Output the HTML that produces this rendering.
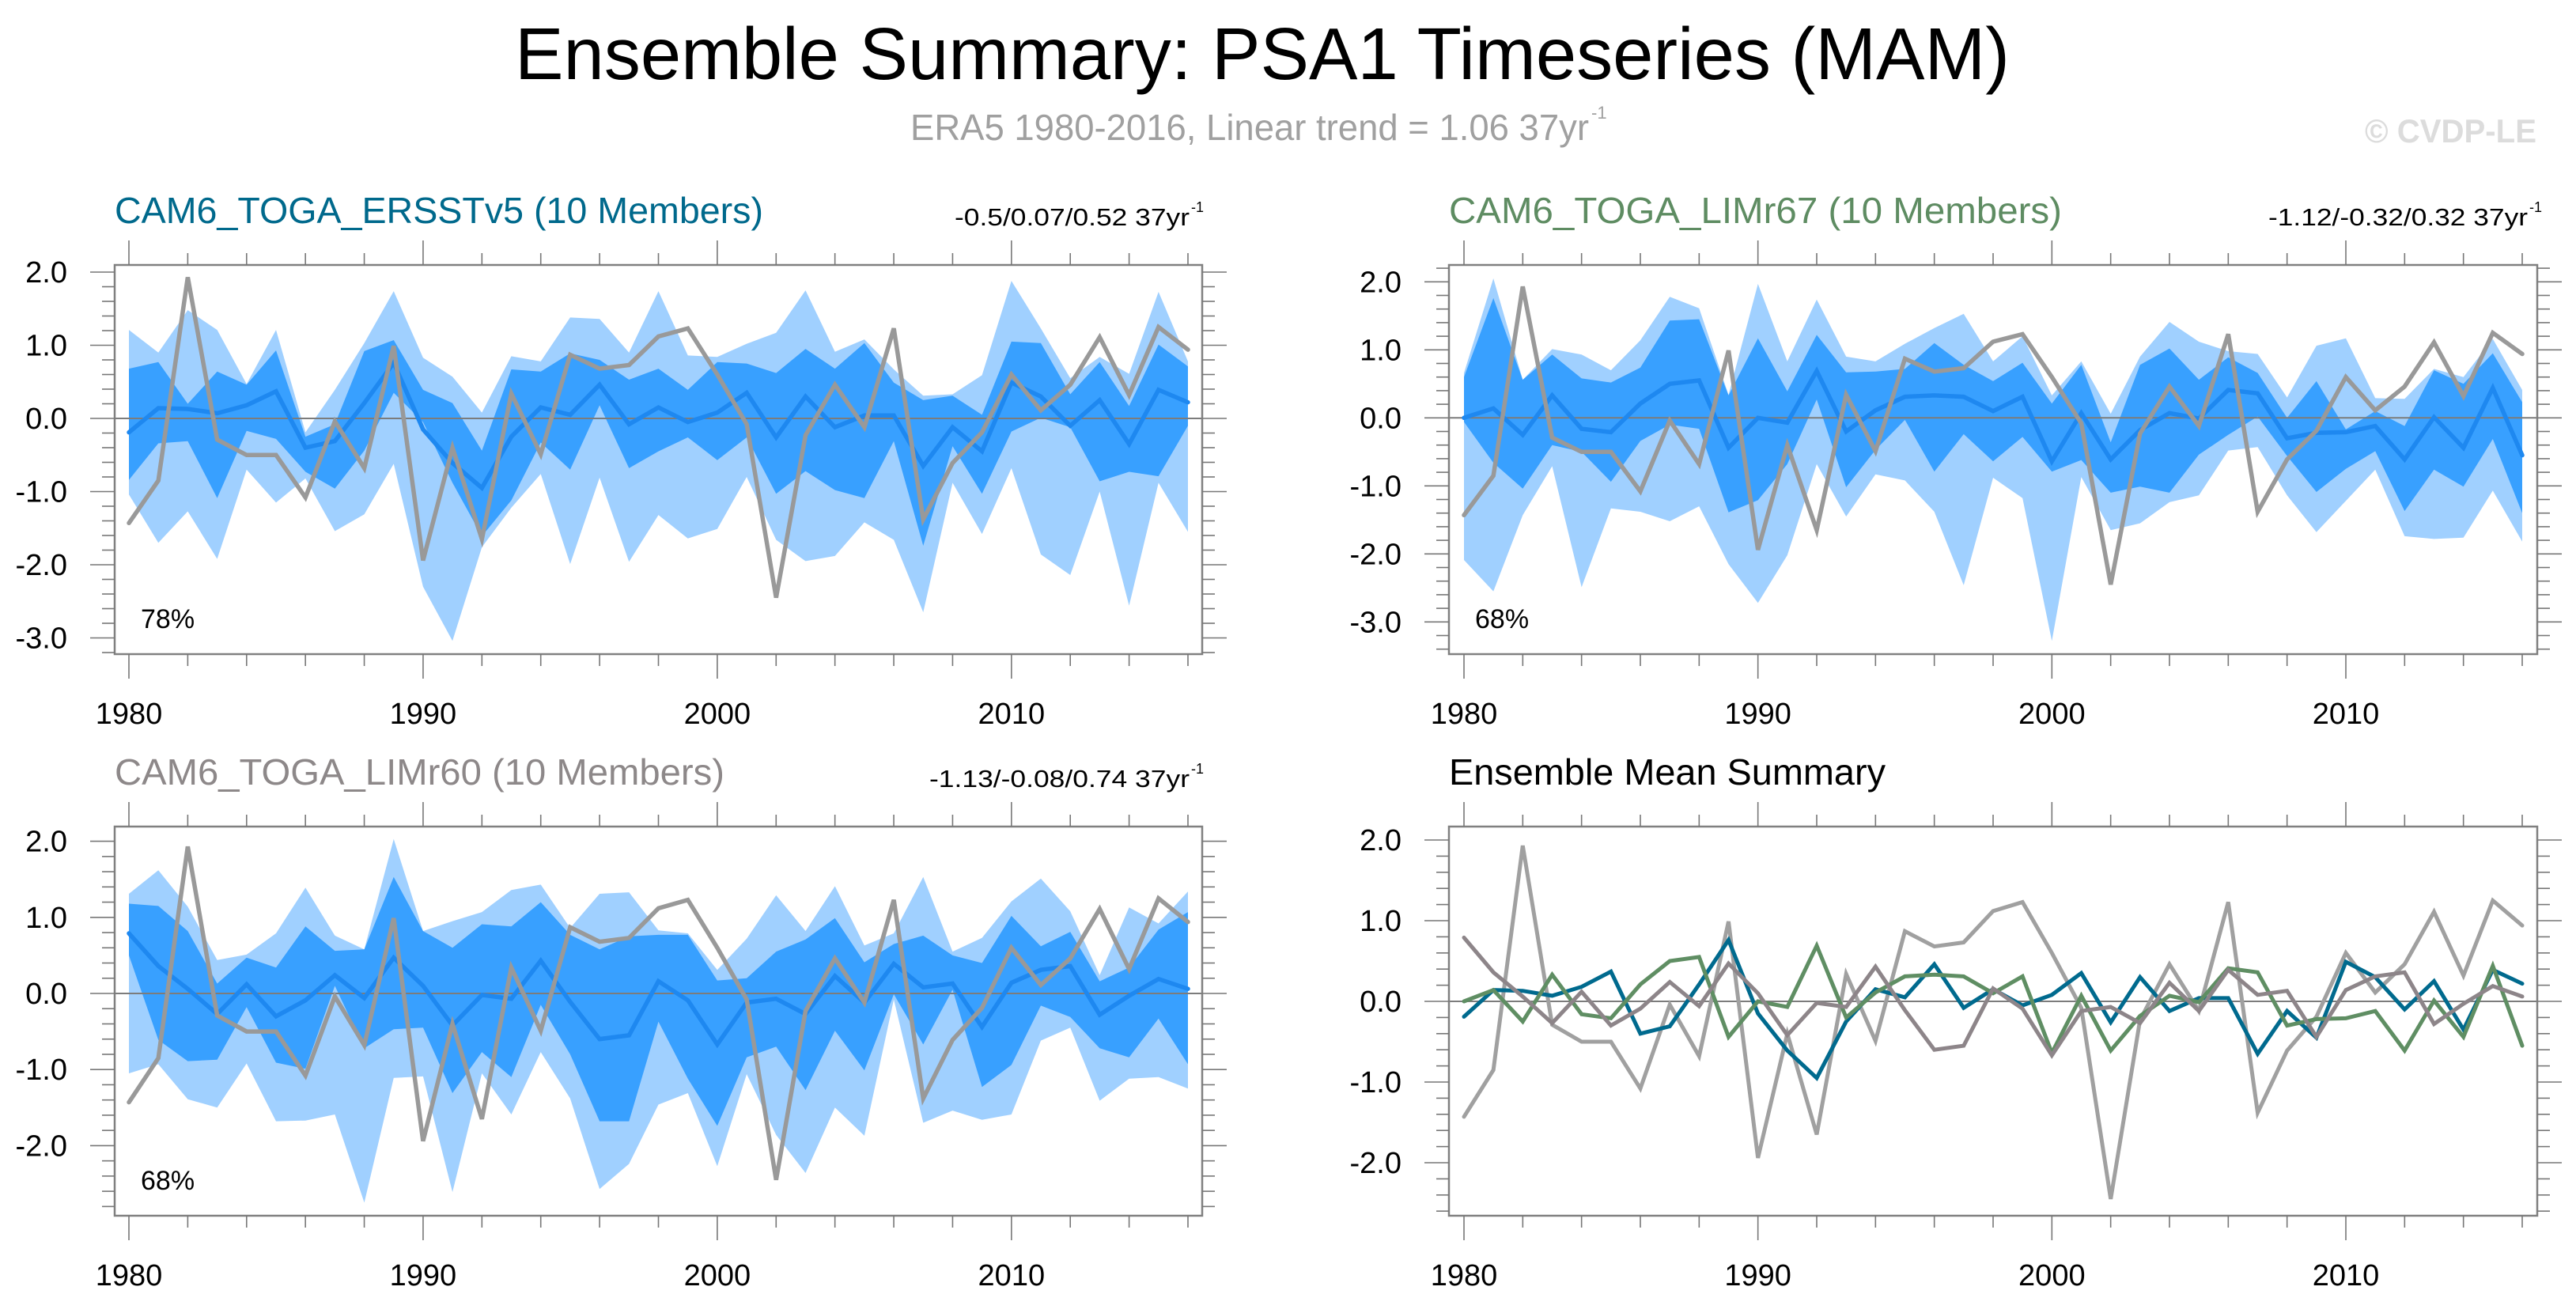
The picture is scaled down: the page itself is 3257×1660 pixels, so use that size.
<!DOCTYPE html>
<html><head><meta charset="utf-8"><title>Ensemble Summary: PSA1 Timeseries (MAM)</title>
<style>
html,body{margin:0;padding:0;background:#fff;}
svg{display:block;font-family:"Liberation Sans",Arial,sans-serif;}
</style></head>
<body>
<svg id="chart" xmlns="http://www.w3.org/2000/svg" width="3257" height="1660" viewBox="0 0 3257 1660">
<rect x="0" y="0" width="3257" height="1660" fill="#fff"/>
<text x="651" y="100" font-size="93" textLength="1890" lengthAdjust="spacingAndGlyphs" fill="#000">Ensemble Summary: PSA1 Timeseries (MAM)</text>
<text x="1151" y="177" font-size="46" textLength="858" lengthAdjust="spacingAndGlyphs" fill="#a0a0a0">ERA5 1980-2016, Linear trend = 1.06 37yr</text>
<text x="2012" y="150" font-size="22" fill="#a0a0a0">-1</text>
<text x="2990" y="180" font-size="42" font-weight="bold" textLength="217" lengthAdjust="spacingAndGlyphs" fill="#dcdcdc">© CVDP-LE</text>
<g id="plots"></g>
</svg>
<script>
// ---- data (categories) ----
var years = [1980,1981,1982,1983,1984,1985,1986,1987,1988,1989,1990,1991,1992,1993,1994,1995,1996,1997,1998,1999,2000,2001,2002,2003,2004,2005,2006,2007,2008,2009,2010,2011,2012,2013,2014,2015,2016];
var xTickLabels = [1980,1990,2000,2010];
var yTickLabelsTop = ["2.0","1.0","0.0","-1.0","-2.0","-3.0"];
var yTickValuesTop = [2,1,0,-1,-2,-3];
var yTickLabelsBottom = ["2.0","1.0","0.0","-1.0","-2.0"];
var yTickValuesBottom = [2,1,0,-1,-2];
// ---- observations ERA5 ----
var obs = [-1.43,-0.85,1.93,-0.29,-0.50,-0.50,-1.08,-0.04,-0.68,0.99,-1.94,-0.40,-1.65,0.34,-0.49,0.87,0.68,0.73,1.12,1.23,0.60,-0.08,-2.45,-0.23,0.46,-0.12,1.23,-1.38,-0.61,-0.19,0.60,0.11,0.46,1.11,0.32,1.25,0.94];
// ---- CAM6_TOGA_ERSSTv5 ----
var mean1 = [-0.19,0.14,0.13,0.07,0.18,0.37,-0.40,-0.31,0.21,0.76,-0.15,-0.61,-0.95,-0.25,0.15,0.05,0.46,-0.08,0.15,-0.05,0.08,0.35,-0.26,0.30,-0.12,0.04,0.04,-0.65,-0.12,-0.45,0.49,0.30,-0.10,0.25,-0.35,0.39,0.22];
var darkHi1 = [0.68,0.77,0.20,0.64,0.46,0.93,-0.25,-0.08,0.92,1.07,0.39,0.21,-0.44,0.67,0.64,0.89,0.80,0.53,0.68,0.39,0.77,0.75,0.62,0.95,0.68,1.03,0.49,0.25,0.31,0.05,1.05,1.03,0.33,0.77,0.17,1.01,0.71];
var darkLo1 = [-0.84,-0.34,-0.31,-1.09,-0.17,-0.28,-0.73,-0.96,-0.44,0.35,-0.05,-0.88,-1.61,-1.12,-0.33,-0.70,0.18,-0.68,-0.45,-0.26,-0.57,-0.26,-1.03,-0.72,-0.98,-1.09,-0.31,-1.74,-0.38,-1.03,-0.18,0.01,-0.12,-0.86,-0.73,-0.79,-0.10];
var lightHi1 = [1.21,0.90,1.48,1.21,0.47,1.21,-0.19,0.39,1.03,1.74,0.83,0.57,0.08,0.85,0.78,1.38,1.36,0.90,1.74,0.86,0.84,1.02,1.17,1.75,0.91,1.08,0.67,0.31,0.33,0.59,1.88,1.23,0.55,0.84,0.61,1.73,0.78];
var lightLo1 = [-1.04,-1.70,-1.27,-1.92,-0.70,-1.15,-0.82,-1.54,-1.31,-0.62,-2.30,-3.04,-1.76,-1.22,-0.76,-1.99,-0.81,-1.96,-1.32,-1.64,-1.51,-0.80,-1.66,-1.95,-1.88,-1.42,-1.66,-2.65,-0.88,-1.58,-0.68,-1.86,-2.14,-1.00,-2.56,-0.88,-1.55];
// ---- CAM6_TOGA_LIMr67 ----
var mean2 = [0.00,0.14,-0.25,0.33,-0.16,-0.21,0.21,0.50,0.55,-0.44,0.00,-0.07,0.69,-0.20,0.11,0.31,0.33,0.31,0.10,0.31,-0.64,0.07,-0.61,-0.18,0.07,-0.01,0.41,0.36,-0.30,-0.22,-0.21,-0.12,-0.61,0.01,-0.44,0.44,-0.55];
var darkHi2 = [0.60,1.76,0.56,0.93,0.58,0.52,0.74,1.43,1.45,0.33,1.17,0.39,1.22,0.67,0.68,0.72,1.10,0.78,0.54,0.81,0.21,0.78,-0.36,0.78,1.02,0.56,0.89,0.66,0.00,0.54,-0.17,0.10,-0.12,0.70,0.50,0.95,0.23];
var darkLo2 = [-0.06,-0.66,-1.04,-0.40,-0.50,-0.94,-0.34,-0.10,-0.16,-1.39,-1.21,-0.68,0.27,-1.02,-0.47,-0.03,-0.79,-0.24,-0.64,-0.28,-0.79,-0.62,-1.10,-1.01,-1.10,-0.54,-0.25,0.02,-0.56,-1.09,-0.75,-0.49,-1.37,-0.76,-1.01,-0.31,-1.40];
var lightHi2 = [0.66,2.05,0.56,1.01,0.93,0.70,1.14,1.78,1.61,0.34,1.97,0.83,1.74,0.90,0.83,1.09,1.32,1.53,0.83,1.20,0.33,0.83,0.06,0.90,1.41,1.12,0.98,0.94,0.30,1.06,1.17,0.29,0.28,0.72,0.60,1.16,0.41];
var lightLo2 = [-2.09,-2.55,-1.43,-0.71,-2.49,-1.33,-1.38,-1.52,-1.30,-2.15,-2.72,-2.02,-0.68,-1.45,-0.83,-0.92,-1.38,-2.46,-0.88,-1.18,-3.28,-0.87,-1.65,-1.55,-1.24,-1.14,-0.48,-0.43,-1.14,-1.68,-1.22,-0.76,-1.74,-1.78,-1.76,-1.07,-1.82];
// ---- CAM6_TOGA_LIMr60 ----
var mean3 = [0.79,0.36,0.06,-0.27,0.12,-0.30,-0.09,0.24,-0.06,0.47,0.10,-0.42,-0.02,-0.07,0.43,-0.11,-0.60,-0.55,0.16,-0.09,-0.67,-0.12,-0.07,-0.27,0.23,-0.12,0.39,0.08,0.13,-0.44,0.14,0.31,0.36,-0.28,-0.03,0.19,0.06];
var darkHi3 = [1.18,1.15,0.82,0.13,0.47,0.34,0.88,0.56,0.58,1.53,0.82,0.60,0.91,0.88,1.20,0.77,0.58,0.75,0.77,0.77,0.17,0.20,0.55,0.71,0.99,0.41,0.65,0.76,0.50,0.40,1.02,0.62,0.81,0.16,0.34,0.84,1.07];
var darkLo3 = [0.50,-0.61,-0.89,-0.87,-0.18,-0.91,-0.99,0.10,-0.72,-0.47,-0.45,-1.31,-0.77,-1.10,-0.15,-0.80,-1.68,-1.68,-0.37,-1.12,-1.74,-0.84,-0.70,-1.27,-0.49,-1.01,-0.01,-0.67,0.05,-1.23,-0.94,-0.16,-0.31,-0.72,-0.84,-0.33,-0.93];
var lightHi3 = [1.31,1.62,1.14,0.44,0.51,0.79,1.39,0.76,0.58,2.03,0.82,0.95,1.07,1.36,1.43,0.86,1.31,1.33,0.83,0.79,0.31,0.72,1.29,0.82,1.41,0.63,0.79,1.53,0.55,0.73,1.21,1.51,1.08,0.24,1.13,0.92,1.34];
var lightLo3 = [-1.05,-0.93,-1.39,-1.50,-0.92,-1.68,-1.67,-1.59,-2.75,-1.11,-1.09,-2.61,-1.05,-1.59,-0.77,-1.38,-2.57,-2.24,-1.46,-1.31,-2.27,-1.06,-1.86,-2.36,-1.50,-1.87,-0.08,-1.70,-1.54,-1.66,-1.59,-0.62,-0.45,-1.41,-1.12,-1.10,-1.25];

var NS = "http://www.w3.org/2000/svg";
var root = document.getElementById('plots');
function mk(tag, parent) { var e = document.createElementNS(NS, tag); parent.appendChild(e); return e; }

function drawPanel(cfg) {
  var g = mk('g', root);
  
  
  var x0 = cfg.fx0, x1 = cfg.fx1, y0 = cfg.fy0, y1 = cfg.fy1;
  function xs(yr) { return cfg.xa + (yr - years[0]) * (cfg.xb - cfg.xa) / (years[years.length - 1] - years[0]); }
  function ys(v) { return cfg.zero - v * cfg.unit; }
  var clipId = 'clip-' + cfg.name;
  var cp = mk('clipPath', g); cp.setAttribute('id', clipId);
  var cr = mk('rect', cp); cr.setAttribute('x', x0); cr.setAttribute('y', y0); cr.setAttribute('width', x1 - x0); cr.setAttribute('height', y1 - y0);
  var pg = mk('g', g); pg.setAttribute('clip-path', 'url(#' + clipId + ')');

  function band(hi, lo, color, nm) {
    var pts = [];
    for (var i = 0; i < years.length; i++) pts.push(xs(years[i]).toFixed(1) + ',' + ys(hi[i]).toFixed(1));
    for (var j = years.length - 1; j >= 0; j--) pts.push(xs(years[j]).toFixed(1) + ',' + ys(lo[j]).toFixed(1));
    var p = mk('polygon', pg);
    p.setAttribute('points', pts.join(' '));
    p.setAttribute('fill', color);
    
    
  }
  function line(vals, color, w, nm) {
    var pts = [];
    for (var i = 0; i < years.length; i++) pts.push(xs(years[i]).toFixed(1) + ',' + ys(vals[i]).toFixed(1));
    var p = mk('polyline', pg);
    p.setAttribute('points', pts.join(' '));
    p.setAttribute('fill', 'none');
    p.setAttribute('stroke', color);
    p.setAttribute('stroke-width', w);
    p.setAttribute('stroke-linejoin', 'miter');
    p.setAttribute('stroke-linecap', 'round');
    
    
  }
  if (cfg.bands) {
    band(cfg.bands.lh, cfg.bands.ll, '#a0d0ff', 'minmax-band');
    band(cfg.bands.dh, cfg.bands.dl, '#38a0ff', 'percentile-band');
  }
  var zl = mk('line', pg);
  zl.setAttribute('x1', x0); zl.setAttribute('x2', x1); zl.setAttribute('y1', ys(0)); zl.setAttribute('y2', ys(0));
  zl.setAttribute('stroke', '#7c7c7c'); zl.setAttribute('stroke-width', 2);
  
  
  for (var k = 0; k < cfg.lines.length; k++) line(cfg.lines[k].v, cfg.lines[k].c, cfg.lines[k].w, cfg.lines[k].n);

  // frame
  var fr = mk('rect', g);
  fr.setAttribute('x', x0); fr.setAttribute('y', y0); fr.setAttribute('width', x1 - x0); fr.setAttribute('height', y1 - y0);
  fr.setAttribute('fill', 'none'); fr.setAttribute('stroke', '#808080'); fr.setAttribute('stroke-width', 2.5);
  
  

  // x ticks (every 2 years, major every 10)
  var tg = mk('g', g); tg.setAttribute('stroke', '#777'); tg.setAttribute('stroke-width', 1.6);
  for (var i = 0; i < years.length; i++) {
    var yr = years[i];
    if ((yr - 1980) % 2 !== 0) continue;
    var major = (yr % 10 === 0);
    var L = major ? 31 : 15;
    var X = xs(yr);
    var t1 = mk('line', tg); t1.setAttribute('x1', X); t1.setAttribute('x2', X); t1.setAttribute('y1', y1); t1.setAttribute('y2', y1 + L);
    var t2 = mk('line', tg); t2.setAttribute('x1', X); t2.setAttribute('x2', X); t2.setAttribute('y1', y0); t2.setAttribute('y2', y0 - L);
  }
  for (var v = -40; v <= 30; v += 2) {
    var val = v / 10;
    var Y = ys(val);
    if (Y < y0 - 0.5 || Y > y1 + 0.5) continue;
    var maj = (v % 10 === 0);
    var L2 = maj ? 31 : 16;
    var a = mk('line', tg); a.setAttribute('x1', x0); a.setAttribute('x2', x0 - L2); a.setAttribute('y1', Y); a.setAttribute('y2', Y);
    var b = mk('line', tg); b.setAttribute('x1', x1); b.setAttribute('x2', x1 + L2); b.setAttribute('y1', Y); b.setAttribute('y2', Y);
  }
  // x labels
  for (var i2 = 0; i2 < xTickLabels.length; i2++) {
    var tx = mk('text', g);
    tx.setAttribute('x', xs(xTickLabels[i2])); tx.setAttribute('y', y1 + 88);
    tx.setAttribute('font-size', 38); tx.setAttribute('text-anchor', 'middle');
    tx.textContent = String(xTickLabels[i2]);
    
    
  }
  // y labels
  for (var i3 = 0; i3 < cfg.yLabels.length; i3++) {
    var ty = mk('text', g);
    ty.setAttribute('x', x0 - 60); ty.setAttribute('y', ys(cfg.yValues[i3]) + 13);
    ty.setAttribute('font-size', 38); ty.setAttribute('text-anchor', 'end');
    ty.textContent = cfg.yLabels[i3];
    
    
  }
  // title
  var tt = mk('text', g);
  tt.setAttribute('x', x0); tt.setAttribute('y', y0 - 53);
  tt.setAttribute('font-size', 46); tt.setAttribute('fill', cfg.titleColor);
  tt.setAttribute('textLength', cfg.titleLen); tt.setAttribute('lengthAdjust', 'spacingAndGlyphs');
  tt.textContent = cfg.title;
  
  
  if (cfg.trend) {
    var tr = mk('text', g);
    tr.setAttribute('x', cfg.trendEnd - 24); tr.setAttribute('y', y0 - 50);
    tr.setAttribute('font-size', 31); tr.setAttribute('text-anchor', 'end');
    tr.setAttribute('textLength', cfg.trendLen); tr.setAttribute('lengthAdjust', 'spacingAndGlyphs');
    tr.textContent = cfg.trend;
    
    
    var sp = mk('text', g);
    sp.setAttribute('x', cfg.trendEnd - 22); sp.setAttribute('y', y0 - 67);
    sp.setAttribute('font-size', 18);
    sp.textContent = '-1';
    
    
  }
  if (cfg.pct) {
    var pc = mk('text', g);
    pc.setAttribute('x', x0 + 33); pc.setAttribute('y', y1 - 33);
    pc.setAttribute('font-size', 34);
    pc.textContent = cfg.pct;
    
    
  }
}

drawPanel({name:'panel-ersstv5', fx0:145, fx1:1520, fy0:335, fy1:827, xa:163, xb:1502, zero:529, unit:92.5,
  bands:{lh:lightHi1, ll:lightLo1, dh:darkHi1, dl:darkLo1},
  lines:[{v:mean1,c:'#1e88f0',w:5.5,n:'ensemble-mean-line'},{v:obs,c:'#999999',w:5.5,n:'era5-obs-line'}],
  yLabels:yTickLabelsTop, yValues:yTickValuesTop,
  title:'CAM6_TOGA_ERSSTv5 (10 Members)', titleColor:'#00698c', titleLen:820,
  trend:'-0.5/0.07/0.52 37yr', trendEnd:1528, trendLen:297, pct:'78%'});

drawPanel({name:'panel-limr67', fx0:1832, fx1:3208, fy0:335, fy1:827, xa:1851, xb:3189, zero:528.3, unit:86,
  bands:{lh:lightHi2, ll:lightLo2, dh:darkHi2, dl:darkLo2},
  lines:[{v:mean2,c:'#1e88f0',w:5.5,n:'ensemble-mean-line'},{v:obs,c:'#999999',w:5.5,n:'era5-obs-line'}],
  yLabels:yTickLabelsTop, yValues:yTickValuesTop,
  title:'CAM6_TOGA_LIMr67 (10 Members)', titleColor:'#5e8c62', titleLen:775,
  trend:'-1.12/-0.32/0.32 37yr', trendEnd:3220, trendLen:328, pct:'68%'});

drawPanel({name:'panel-limr60', fx0:145, fx1:1520, fy0:1045, fy1:1537, xa:163, xb:1502, zero:1256, unit:96.2,
  bands:{lh:lightHi3, ll:lightLo3, dh:darkHi3, dl:darkLo3},
  lines:[{v:mean3,c:'#1e88f0',w:5.5,n:'ensemble-mean-line'},{v:obs,c:'#999999',w:5.5,n:'era5-obs-line'}],
  yLabels:yTickLabelsBottom, yValues:yTickValuesBottom,
  title:'CAM6_TOGA_LIMr60 (10 Members)', titleColor:'#8d8889', titleLen:771,
  trend:'-1.13/-0.08/0.74 37yr', trendEnd:1528, trendLen:329, pct:'68%'});

drawPanel({name:'panel-ensemble-mean-summary', fx0:1832, fx1:3208, fy0:1045, fy1:1537, xa:1851, xb:3189, zero:1266, unit:102,
  bands:null,
  lines:[{v:obs,c:'#a0a0a0',w:5,n:'era5-obs-line'},{v:mean1,c:'#006a8e',w:5,n:'ersstv5-mean-line'},{v:mean2,c:'#5f8e63',w:5,n:'limr67-mean-line'},{v:mean3,c:'#8d8589',w:5,n:'limr60-mean-line'}],
  yLabels:yTickLabelsBottom, yValues:yTickValuesBottom,
  title:'Ensemble Mean Summary', titleColor:'#000', titleLen:552,
  trend:null, pct:null});
</script>
</body></html>
